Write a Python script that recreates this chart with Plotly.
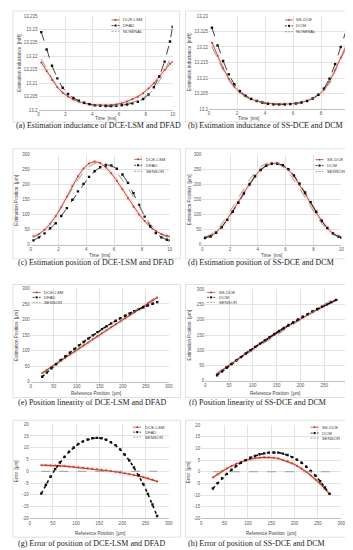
import plotly.graph_objects as go

W, H = 353, 550

# ---------------- data ----------------
time_ms = [0.2, 0.6, 1.0, 1.4, 1.8, 2.2, 2.6, 3.0, 3.4, 3.8, 4.2, 4.6, 5.0,
           5.4, 5.8, 6.2, 6.6, 7.0, 7.4, 7.8, 8.2, 8.6, 9.0, 9.4, 9.8, 10.0]

# (a) inductance [mH]
ind_dce_lsm = [13.2177, 13.2145, 13.2112, 13.2085, 13.2064, 13.2050, 13.2039, 13.2031, 13.2025,
               13.2021, 13.2019, 13.2018, 13.2018, 13.2019, 13.2021, 13.2025, 13.2032, 13.2040,
               13.2050, 13.2063, 13.2080, 13.2100, 13.2125, 13.2150, 13.2172, 13.2180]
ind_dfad = [13.2290, 13.2225, 13.2165, 13.2118, 13.2083, 13.2060, 13.2045, 13.2035, 13.2027,
            13.2022, 13.2018, 13.2016, 13.2015, 13.2015, 13.2016, 13.2018, 13.2021, 13.2025,
            13.2031, 13.2041, 13.2058, 13.2085, 13.2125, 13.2180, 13.2255, 13.2310]
ind_nominal_a = [13.2190, 13.2155, 13.2118, 13.2089, 13.2066, 13.2051, 13.2040, 13.2031, 13.2025,
                 13.2021, 13.2019, 13.2018, 13.2018, 13.2018, 13.2019, 13.2021, 13.2024, 13.2029,
                 13.2035, 13.2045, 13.2058, 13.2078, 13.2107, 13.2145, 13.2190, 13.2195]
# (b)
ind_ss_dce = [13.2214, 13.2172, 13.2132, 13.2098, 13.2072, 13.2054, 13.2041, 13.2032, 13.2026,
              13.2021, 13.2018, 13.2017, 13.2016, 13.2016, 13.2017, 13.2019, 13.2022, 13.2027,
              13.2034, 13.2045, 13.2062, 13.2088, 13.2125, 13.2165, 13.2205, 13.2217]
ind_dcm = [13.2262, 13.2205, 13.2155, 13.2112, 13.2080, 13.2058, 13.2043, 13.2033, 13.2026,
           13.2021, 13.2017, 13.2015, 13.2015, 13.2015, 13.2016, 13.2018, 13.2021, 13.2026,
           13.2034, 13.2046, 13.2066, 13.2098, 13.2145, 13.2200, 13.2255, 13.2274]
ind_nominal_b = [13.2200, 13.2162, 13.2125, 13.2094, 13.2070, 13.2053, 13.2040, 13.2031, 13.2025,
                 13.2021, 13.2018, 13.2017, 13.2016, 13.2016, 13.2017, 13.2019, 13.2022, 13.2027,
                 13.2034, 13.2044, 13.2060, 13.2085, 13.2120, 13.2160, 13.2198, 13.2208]

# (c), (d) position vs time [um]
pos_dce_lsm_t = [28, 36, 50, 70, 95, 125, 160, 196, 228, 254, 271, 277, 272,
                 258, 238, 213, 185, 155, 127, 101, 79, 60, 46, 36, 30, 28]
pos_dfad_t = [15, 25, 38, 55, 72, 96, 122, 150, 178, 203, 226, 245, 258,
              265, 264, 253, 234, 206, 172, 133, 94, 62, 39, 25, 17, 15]
pos_sensor_t = [26, 34, 49, 70, 97, 127, 158, 189, 217, 241, 260, 271, 275,
                271, 260, 241, 217, 189, 158, 127, 97, 70, 49, 34, 26, 25]
pos_ss_dce_t = [25, 30, 42, 60, 85, 113, 143, 174, 204, 230, 250, 264, 271,
                271, 264, 250, 228, 200, 170, 138, 107, 78, 55, 38, 28, 26]
pos_dcm_t = [23, 28, 40, 58, 83, 110, 140, 171, 201, 228, 249, 263, 270,
             270, 265, 252, 231, 204, 174, 142, 110, 80, 56, 38, 27, 24]

# (e)-(h) reference position [um]
ref_pos = [25, 35, 45, 55, 65, 75, 85, 95, 105, 115, 125, 135, 145,
           155, 165, 175, 185, 195, 205, 215, 225, 235, 245, 255, 265, 275]
est_dce_lsm = [27.6, 37.6, 47.5, 57.4, 67.3, 77.2, 87.0, 96.9, 106.7, 116.5, 126.3, 136.1, 145.9,
               155.6, 165.4, 175.1, 184.8, 194.5, 204.2, 213.8, 223.4, 233.0, 242.5, 252.0, 261.4, 270.7]
est_dfad = [15.5, 29.3, 42.7, 55.9, 68.7, 81.1, 93.3, 105.1, 116.6, 127.7, 138.5, 149.0, 159.2,
            169.0, 178.4, 187.4, 196.1, 204.3, 212.1, 219.6, 226.6, 233.3, 239.6, 245.4, 250.9, 256.0]
est_sensor = [25, 35, 45, 55, 65, 75, 85, 95, 105, 115, 125, 135, 145,
              155, 165, 175, 185, 195, 205, 215, 225, 235, 245, 255, 265, 275]
est_ss_dce = [22.5, 33.9, 45.3, 56.4, 67.5, 78.4, 89.2, 99.9, 110.4, 120.8, 131.05, 141.2, 151.2,
              161.0, 170.7, 180.1, 189.5, 198.6, 207.6, 216.4, 225.0, 233.4, 241.7, 249.8, 257.7, 265.5]
est_dcm = [17.8, 30.1, 42.2, 54.1, 65.9, 77.4, 88.8, 100.0, 111.0, 121.8, 132.5, 142.9, 153.2,
           163.3, 173.2, 182.8, 192.2, 201.3, 210.2, 218.9, 227.2, 235.4, 243.3, 250.9, 258.3, 265.5]

err_dce_lsm = [2.6, 2.6, 2.5, 2.4, 2.3, 2.2, 2.0, 1.9, 1.7, 1.5, 1.3, 1.1, 0.9,
               0.6, 0.4, 0.1, -0.2, -0.5, -0.8, -1.2, -1.6, -2.0, -2.5, -3.0, -3.6, -4.3]
err_dfad = [-9.5, -5.7, -2.3, 0.9, 3.7, 6.1, 8.3, 10.1, 11.6, 12.7, 13.5, 14.0, 14.2,
            14.0, 13.4, 12.4, 11.1, 9.3, 7.1, 4.6, 1.6, -1.7, -5.4, -9.6, -14.1, -19.0]
err_ss_dce = [-2.5, -1.1, 0.3, 1.4, 2.5, 3.4, 4.2, 4.9, 5.4, 5.8, 6.05, 6.2, 6.2,
              6.0, 5.7, 5.1, 4.5, 3.6, 2.6, 1.4, 0.0, -1.6, -3.3, -5.2, -7.3, -9.5]
err_dcm = [-7.2, -4.9, -2.8, -0.9, 0.9, 2.4, 3.8, 5.0, 6.0, 6.8, 7.5, 7.9, 8.2,
           8.3, 8.2, 7.8, 7.2, 6.3, 5.2, 3.9, 2.2, 0.4, -1.7, -4.1, -6.7, -9.5]
err_sensor = [0, 0, 0, 0, 0, 0, 0, 0, 0, 0, 0, 0, 0,
              0, 0, 0, 0, 0, 0, 0, 0, 0, 0, 0, 0, 0]

# tick labels
ind_ticks_a = [13.2, 13.205, 13.21, 13.215, 13.22, 13.225, 13.23, 13.235]
ind_ticks_b = [13.2, 13.205, 13.21, 13.215, 13.22, 13.225, 13.23]
time_ticks = [0, 2, 4, 6, 8, 10]
pos_ticks = [0, 50, 100, 150, 200, 250, 300]
err_ticks = [-20, -15, -10, -5, 0, 5, 10, 15, 20]

captions = ["(a) Estimation inductance of DCE-LSM and DFAD",
            "(b) Estimation inductance of SS-DCE and DCM",
            "(c) Estimation position of DCE-LSM and DFAD",
            "(d) Estimation position of SS-DCE and DCM",
            "(e) Position linearity of DCE-LSM and DFAD",
            "(f) Position linearity of SS-DCE and DCM",
            "(g) Error of position of DCE-LSM and DFAD",
            "(h) Error of position of SS-DCE and DCM"]

# ---------------- styles ----------------
ORANGE = "#b8432c"
HALO = "rgba(245,150,160,0.22)"
BLACK = "#111111"
GRAY = "#8a8a8a"
TICKC = "#595959"
GRIDC = "#e3e3e3"
FONT = "Liberation Sans"

STY = {
    "est": dict(color=ORANGE, marker="circle"),
    "ref": dict(color=BLACK, marker="square"),
    "sens": dict(color=GRAY, marker=None),
}


def fx(x):
    return x / W


def fy(y):
    return 1 - y / H


panels = [
    dict(dom=(30, 166, 6, 101), xr=[0, 10], xt=time_ticks, yr=[13.2, 13.235], yt=ind_ticks_a,
         series=[(time_ms, ind_dce_lsm, "DCE-LSM", "est"), (time_ms, ind_dfad, "DFAD", "ref"),
                 (time_ms, ind_nominal_a, "NOMINAL", "sens")],
         ytitle="Estimation Inductance  [mH]", xtitle="Time  [ms]", ytx=10, xtp=(98, 110),
         leg=(104, [10, 15.7, 21.4]), box=(4, 173, 1, 113), cap=(5, 117), dense=False),
    dict(dom=(203, 345, 6, 100), xr=[0, 10], xt=time_ticks, yr=[13.2, 13.23], yt=ind_ticks_b,
         series=[(time_ms, ind_ss_dce, "SS-DCE", "est"), (time_ms, ind_dcm, "DCM", "ref"),
                 (time_ms, ind_nominal_b, "NOMINAL", "sens")],
         ytitle="Estimation Inductance  [mH]", xtitle="Time  [ms]", ytx=183, xtp=(243, 109),
         leg=(280, [10, 16, 22]), box=(179, 350, 1, 113), cap=(180, 117), dense=False),
    dict(dom=(22, 163, 146, 237), xr=[0, 10], xt=time_ticks, yr=[0, 300], yt=pos_ticks,
         series=[(time_ms, pos_dce_lsm_t, "DCE-LSM", "est"), (time_ms, pos_dfad_t, "DFAD", "ref"),
                 (time_ms, pos_sensor_t, "SENSOR", "sens")],
         ytitle="Estimation Position  [\u03bcm]", xtitle="Time  [ms]", ytx=8, xtp=(92, 248),
         leg=(127, [150.7, 156.7, 162.7]), box=(4, 174, 140, 251), cap=(7, 255), dense=False),
    dict(dom=(196, 337, 146, 237), xr=[0, 10], xt=time_ticks, yr=[0, 300], yt=pos_ticks,
         series=[(time_ms, pos_ss_dce_t, "SS-DCE", "est"), (time_ms, pos_dcm_t, "DCM", "ref"),
                 (time_ms, pos_sensor_t, "SENSOR", "sens")],
         ytitle="Estimation Position  [\u03bcm]", xtitle="Time  [ms]", ytx=183, xtp=(266, 248),
         leg=(311, [151, 157, 163]), box=(179, 350, 140, 251), cap=(180, 255), dense=False),
    dict(dom=(22, 162, 281, 375), xr=[0, 300], xt=pos_ticks, yr=[0, 300], yt=pos_ticks,
         series=[(ref_pos, est_dce_lsm, "DCE-LSM", "est"), (ref_pos, est_dfad, "DFAD", "ref"),
                 (ref_pos, est_sensor, "SENSOR", "sens")],
         ytitle="Estimation Position  [\u03bcm]", xtitle="Reference Position  [\u03bcm]", ytx=7,
         xtp=(88, 387), leg=(24, [285, 290, 295]), box=(4, 174, 277, 391), cap=(7, 396), dense=True),
    dict(dom=(199, 344, 282, 374), xr=[0, 300], xt=pos_ticks, yr=[0, 300], yt=pos_ticks,
         series=[(ref_pos, est_ss_dce, "SS-DCE", "est"), (ref_pos, est_dcm, "DCM", "ref"),
                 (ref_pos, est_sensor, "SENSOR", "sens")],
         ytitle="Estimation Position  [\u03bcm]", xtitle="Reference Position  [\u03bcm]", ytx=183,
         xtp=(270, 387), leg=(201, [285, 290, 295]), box=(179, 350, 277, 391), cap=(181, 396), dense=True),
    dict(dom=(21, 162, 418, 513), xr=[0, 300], xt=pos_ticks, yr=[-20, 20], yt=err_ticks,
         series=[(ref_pos, err_dce_lsm, "DCE-LSM", "est"), (ref_pos, err_dfad, "DFAD", "ref"),
                 (ref_pos, err_sensor, "SENSOR", "sens")],
         ytitle="Error  [\u03bcm]", xtitle="Reference Position  [\u03bcm]", ytx=7,
         xtp=(92, 528), leg=(126, [421, 426, 431]), box=(4, 174, 414, 532), cap=(7, 538), dense=True),
    dict(dom=(195, 337, 419, 513), xr=[0, 300], xt=pos_ticks, yr=[-20, 20], yt=err_ticks,
         series=[(ref_pos, err_ss_dce, "SS-DCE", "est"), (ref_pos, err_dcm, "DCM", "ref"),
                 (ref_pos, err_sensor, "SENSOR", "sens")],
         ytitle="Error  [\u03bcm]", xtitle="Reference Position  [\u03bcm]", ytx=182,
         xtp=(266, 528), leg=(306, [421, 427, 432]), box=(179, 350, 414, 532), cap=(180, 538), dense=True),
]

fig = go.Figure()
shapes, annotations = [], []
layout = dict(width=W, height=H, margin=dict(l=0, r=0, t=0, b=0),
              paper_bgcolor="white", plot_bgcolor="white", showlegend=False)

for i, p in enumerate(panels, start=1):
    sfx = "" if i == 1 else str(i)
    x0, x1, y0, y1 = p["dom"]
    layout["xaxis" + sfx] = dict(
        domain=[fx(x0), fx(x1)], range=p["xr"], tickvals=p["xt"],
        ticktext=[str(v) for v in p["xt"]], showgrid=True, gridcolor=GRIDC, gridwidth=0.6,
        zeroline=False, showline=True, linecolor="#bfbfbf", linewidth=0.7, ticks="",
        tickfont=dict(size=4.5, color=TICKC, family=FONT), anchor="y" + sfx, fixedrange=True)
    layout["yaxis" + sfx] = dict(
        domain=[fy(y1), fy(y0)], range=p["yr"], tickvals=p["yt"],
        ticktext=[("%g" % v) for v in p["yt"]], showgrid=True, gridcolor=GRIDC, gridwidth=0.6,
        zeroline=False, showline=False, ticks="",
        tickfont=dict(size=4.5, color=TICKC, family=FONT), anchor="x" + sfx, fixedrange=True)
    xa, ya = "x" + sfx, "y" + sfx
    dense = p["dense"]
    for xs, ys, name, kind in p["series"]:
        st = STY[kind]
        if kind == "est":
            fig.add_trace(go.Scatter(x=xs, y=ys, mode="lines", xaxis=xa, yaxis=ya,
                                     line=dict(color=HALO, width=4), hoverinfo="skip",
                                     showlegend=False))
            fig.add_trace(go.Scatter(x=xs, y=ys, mode="lines+markers", name=name, xaxis=xa,
                                     yaxis=ya, line=dict(color=st["color"], width=1.1 if dense else 0.9),
                                     marker=dict(symbol="circle", size=2.0, color=st["color"])))
        elif kind == "ref":
            fig.add_trace(go.Scatter(x=xs, y=ys, mode="lines+markers", name=name, xaxis=xa,
                                     yaxis=ya,
                                     line=dict(color=st["color"], width=1.6 if dense else 0.8,
                                               dash="dot" if dense else "dash"),
                                     marker=dict(symbol="square", size=2.4, color=st["color"])))
        else:
            fig.add_trace(go.Scatter(x=xs, y=ys, mode="lines", name=name, xaxis=xa, yaxis=ya,
                                     line=dict(color=st["color"], width=0.8, dash="dash")))

    # panel border
    bx0, bx1, by0, by1 = p["box"]
    shapes.append(dict(type="rect", xref="paper", yref="paper", x0=fx(bx0), x1=fx(bx1),
                       y0=fy(by1), y1=fy(by0), line=dict(color="#d9d9d9", width=0.8)))
    # axis titles
    annotations.append(dict(text=p["ytitle"], xref="paper", yref="paper", x=fx(p["ytx"]),
                            y=fy((y0 + y1) / 2), textangle=-90, showarrow=False,
                            xanchor="center", yanchor="middle",
                            font=dict(size=4.6, color="#404040", family=FONT)))
    annotations.append(dict(text=p["xtitle"], xref="paper", yref="paper", x=fx(p["xtp"][0]),
                            y=fy(p["xtp"][1]), showarrow=False, xanchor="center",
                            yanchor="middle", font=dict(size=4.6, color="#404040", family=FONT)))
    # legend
    lx, lys = p["leg"]
    for ly, (xs, ys, name, kind) in zip(lys, p["series"]):
        st = STY[kind]
        shapes.append(dict(type="line", xref="paper", yref="paper", x0=fx(lx), x1=fx(lx + 8),
                           y0=fy(ly), y1=fy(ly),
                           line=dict(color=st["color"], width=0.8,
                                     dash="solid" if kind == "est" else "2px,1.2px")))
        if st["marker"] == "circle":
            shapes.append(dict(type="circle", xref="paper", yref="paper", x0=fx(lx + 3),
                               x1=fx(lx + 5), y0=fy(ly + 1), y1=fy(ly - 1),
                               fillcolor=st["color"], line=dict(width=0)))
        elif st["marker"] == "square":
            shapes.append(dict(type="rect", xref="paper", yref="paper", x0=fx(lx + 3),
                               x1=fx(lx + 5), y0=fy(ly + 1), y1=fy(ly - 1),
                               fillcolor=st["color"], line=dict(width=0)))
        annotations.append(dict(text=name, xref="paper", yref="paper", x=fx(lx + 9.5),
                                y=fy(ly), showarrow=False, xanchor="left", yanchor="middle",
                                font=dict(size=4.3, color="#404040", family=FONT)))
    # caption
    annotations.append(dict(text=captions[i - 1], xref="paper", yref="paper", x=fx(p["cap"][0]),
                            y=fy(p["cap"][1]), showarrow=False, xanchor="left",
                            yanchor="middle",
                            font=dict(size=8, color="#222222", family="Liberation Serif")))

layout["shapes"] = shapes
layout["annotations"] = annotations
fig.update_layout(**layout)
fig.write_html("out.html")
